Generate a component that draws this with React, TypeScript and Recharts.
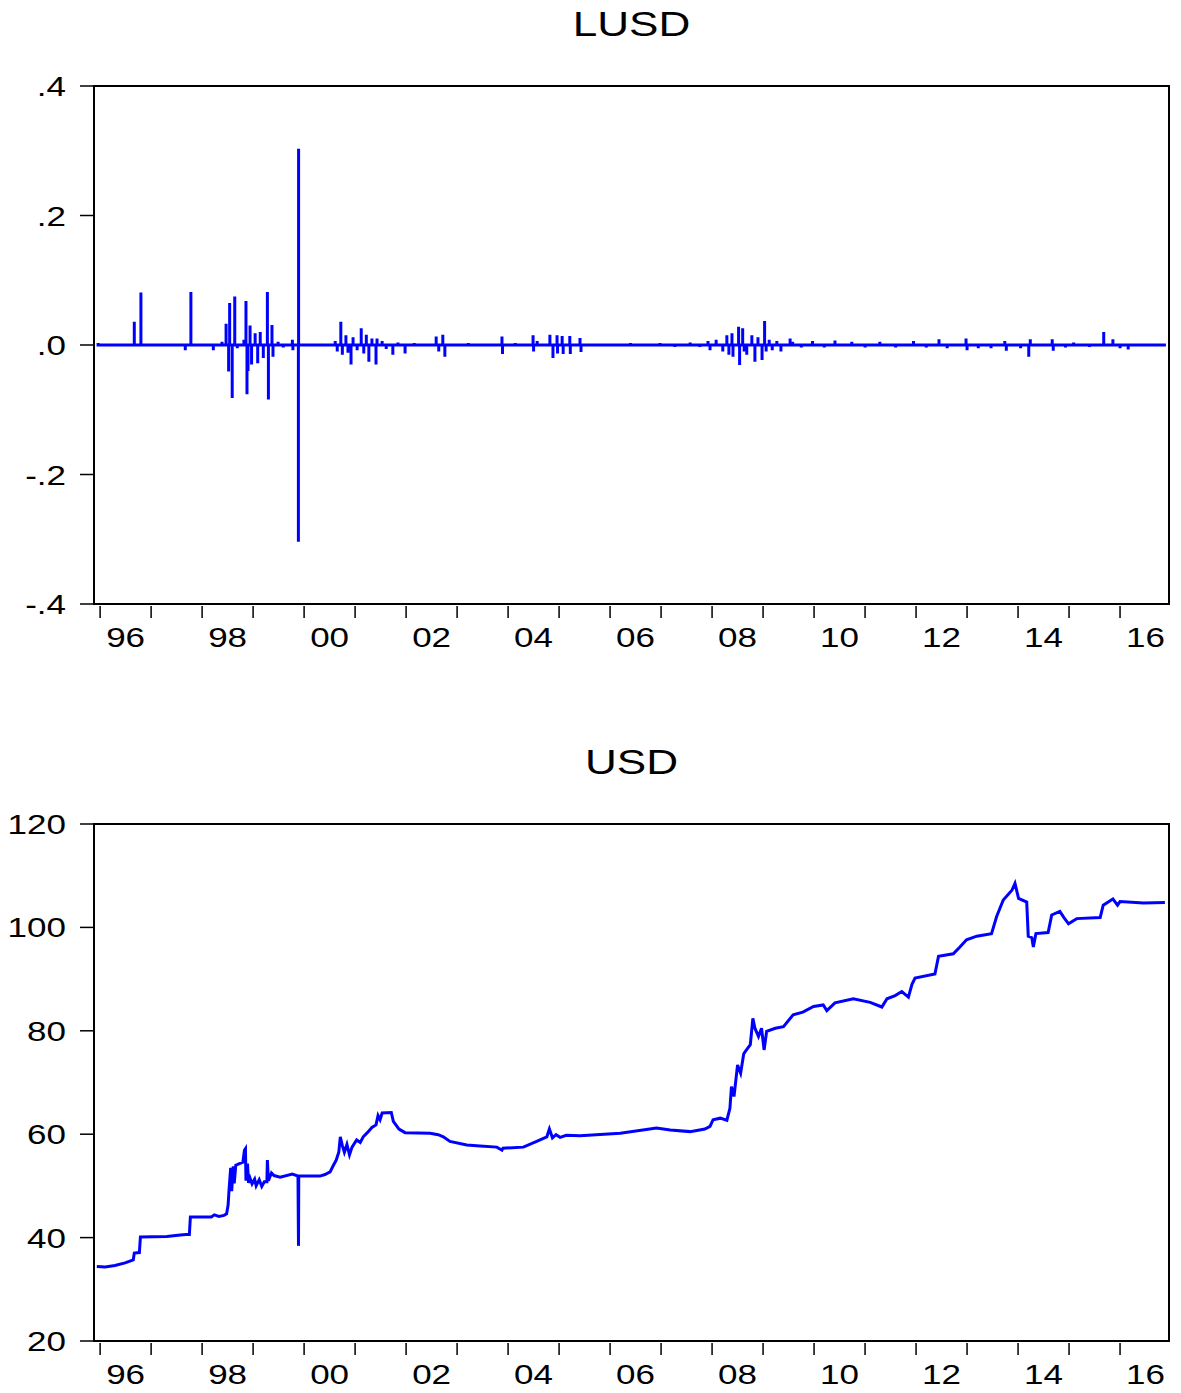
import { LineChart, Line, XAxis, YAxis, ReferenceArea } from 'recharts';

const X_MIN = 1995.88;
const X_MAX = 2016.96;

const yearTicks = [
  1996, 1997, 1998, 1999, 2000, 2001, 2002, 2003, 2004, 2005, 2006,
  2007, 2008, 2009, 2010, 2011, 2012, 2013, 2014, 2015, 2016,
];
const labelYears = [1996, 1998, 2000, 2002, 2004, 2006, 2008, 2010, 2012, 2014, 2016];
const yearLabels = ['96', '98', '00', '02', '04', '06', '08', '10', '12', '14', '16'];

const lusdTicks = [-0.4, -0.2, 0, 0.2, 0.4];
const lusdTickLabels = ['-.4', '-.2', '.0', '.2', '.4'];
const usdTicks = [20, 40, 60, 80, 100, 120];
const usdTickLabels = ['20', '40', '60', '80', '100', '120'];

const lusdSpan = [1995.935, 2016.9];
const lusdSpikeDates = [
  1995.96, 1996.35, 1996.67, 1996.8, 1997.1, 1997.45, 1997.67, 1997.78, 1998.22, 1998.39,
  1998.47, 1998.52, 1998.54, 1998.59, 1998.64, 1998.69, 1998.82, 1998.86, 1998.88, 1998.9,
  1998.94, 1998.97, 1999.04, 1999.09, 1999.14, 1999.2, 1999.28, 1999.3, 1999.37, 1999.39,
  1999.49, 1999.59, 1999.77, 1999.78, 1999.888, 1999.892, 2000.2, 2000.61, 2000.65, 2000.72,
  2000.75, 2000.82, 2000.86, 2000.92, 2000.96, 2001.04, 2001.12, 2001.17, 2001.22, 2001.27,
  2001.33, 2001.41, 2001.43, 2001.53, 2001.61, 2001.74, 2001.84, 2001.98, 2002.16, 2002.59,
  2002.64, 2002.72, 2002.76, 2003.22, 2003.55, 2003.88, 2003.89, 2004.14, 2004.49, 2004.5,
  2004.57, 2004.82, 2004.88, 2004.96, 2004.97, 2005.06, 2005.08, 2005.21, 2005.22, 2005.41,
  2005.43, 2005.8, 2006.0, 2006.4, 2006.7, 2006.98, 2007.27, 2007.57, 2007.76, 2007.92,
  2007.96, 2008.08, 2008.21, 2008.29, 2008.33, 2008.39, 2008.41, 2008.52, 2008.54, 2008.6,
  2008.63, 2008.68, 2008.78, 2008.84, 2008.9, 2008.98, 2009.03, 2009.06, 2009.12, 2009.18,
  2009.27, 2009.35, 2009.53, 2009.58, 2009.75, 2009.97, 2010.2, 2010.41, 2010.74, 2011.0,
  2011.29, 2011.6, 2011.95, 2012.2, 2012.45, 2012.61, 2012.98, 2013.0, 2013.22, 2013.47,
  2013.74, 2013.77, 2014.05, 2014.21, 2014.24, 2014.67, 2014.69, 2014.93, 2015.09, 2015.4,
  2015.68, 2015.86, 2016.0, 2016.16, 2016.47, 2016.7,
];
const lusdSpikeValues = [
  0.003, 0.002, 0.036, 0.081, -0.002, 0.002, -0.008, 0.082, -0.008, 0.005,
  0.033, -0.041, 0.065, -0.082, 0.075, -0.005, 0.008, 0.068, -0.076, -0.04,
  0.03, -0.03, 0.018, -0.028, 0.02, -0.02, 0.082, -0.084, 0.031, -0.018,
  0.005, -0.004, 0.008, -0.008, -0.304, 0.303, 0.002, 0.006, -0.01, 0.036,
  -0.015, 0.015, -0.012, -0.03, 0.012, -0.008, 0.026, -0.013, 0.016, -0.026,
  0.01, -0.03, 0.01, 0.006, -0.006, -0.015, 0.004, -0.013, 0.003, 0.013,
  -0.01, 0.016, -0.018, 0.003, -0.002, 0.013, -0.014, 0.003, 0.015, -0.01,
  0.006, 0.016, -0.02, 0.015, -0.013, 0.014, -0.014, 0.014, -0.014, 0.011,
  -0.011, 0.002, -0.002, 0.003, -0.002, 0.003, -0.003, 0.004, -0.003, 0.006,
  -0.008, 0.008, -0.01, 0.015, -0.015, 0.018, -0.018, 0.028, -0.031, 0.026,
  -0.01, -0.015, 0.015, -0.026, 0.012, -0.023, 0.037, -0.01, 0.008, -0.008,
  0.006, -0.01, 0.01, 0.005, -0.004, 0.006, -0.004, 0.007, 0.005, -0.004,
  0.005, -0.004, 0.006, -0.004, 0.009, -0.005, 0.01, -0.008, -0.005, -0.005,
  0.006, -0.009, -0.005, -0.018, 0.009, 0.009, -0.009, -0.004, 0.004, -0.003,
  0.02, 0.009, -0.005, -0.007, 0.002, -0.002,
];

// USD level
const usdDates = [
  1995.935, 1996.1, 1996.29, 1996.49, 1996.65, 1996.67, 1996.77, 1996.79, 1997.31, 1997.57,
  1997.69, 1997.75, 1997.77, 1998.18, 1998.24, 1998.33, 1998.43, 1998.48, 1998.51, 1998.53,
  1998.56, 1998.58, 1998.61, 1998.63, 1998.66, 1998.8, 1998.83, 1998.85, 1998.86, 1998.89,
  1998.91, 1998.94, 1998.98, 1999.03, 1999.06, 1999.12, 1999.17, 1999.22, 1999.27, 1999.28,
  1999.3, 1999.36, 1999.41, 1999.53, 1999.77, 1999.88, 1999.89, 1999.895, 2000.31, 2000.41,
  2000.51, 2000.57, 2000.63, 2000.68, 2000.71, 2000.75, 2000.79, 2000.84, 2000.89, 2000.94,
  2001.03, 2001.1, 2001.16, 2001.24, 2001.33, 2001.41, 2001.45, 2001.49, 2001.53, 2001.71,
  2001.75, 2001.86, 2001.98, 2002.47, 2002.63, 2002.73, 2002.86, 2003.19, 2003.45, 2003.78,
  2003.88, 2003.9, 2004.3, 2004.56, 2004.76, 2004.81, 2004.87, 2004.94, 2005.02, 2005.14,
  2005.41, 2006.2, 2006.91, 2007.18, 2007.57, 2007.86, 2007.96, 2008.02, 2008.16, 2008.29,
  2008.35, 2008.38, 2008.43, 2008.5, 2008.56, 2008.62, 2008.65, 2008.75, 2008.8, 2008.84,
  2008.91, 2008.97, 2009.02, 2009.07, 2009.24, 2009.4, 2009.59, 2009.78, 2009.99, 2010.18,
  2010.25, 2010.41, 2010.77, 2011.1, 2011.33, 2011.43, 2011.59, 2011.72, 2011.85, 2011.92,
  2011.98, 2012.37, 2012.44, 2012.73, 2012.86, 2012.99, 2013.19, 2013.48, 2013.58, 2013.71,
  2013.88, 2013.94, 2014.01, 2014.17, 2014.2, 2014.27, 2014.3, 2014.35, 2014.59, 2014.66,
  2014.82, 2014.9, 2014.99, 2015.15, 2015.61, 2015.67, 2015.86, 2015.95, 2016.0, 2016.46,
  2016.88,
];
const usdValues = [
  34.4, 34.3, 34.6, 35.1, 35.7, 37.0, 37.1, 40.1, 40.2, 40.5,
  40.6, 40.6, 44.0, 44.0, 44.4, 44.1, 44.3, 44.6, 46.3, 49.5,
  53.5, 49.0, 53.8, 50.5, 54.0, 54.6, 56.9, 57.2, 51.0, 54.3,
  50.6, 51.5, 50.4, 51.3, 50.0, 51.2, 49.9, 50.8, 50.8, 55.0,
  51.0, 52.5, 52.0, 51.7, 52.3, 51.9, 38.4, 51.9, 51.9, 52.2,
  52.7, 53.9, 55.0, 56.5, 59.5, 57.8, 56.5, 58.0, 56.0, 57.5,
  58.9, 58.4, 59.5, 60.3, 61.3, 61.8, 63.6, 62.8, 64.1, 64.2,
  62.5, 61.0, 60.3, 60.2, 59.9, 59.5, 58.6, 57.9, 57.7, 57.5,
  56.9, 57.3, 57.5, 58.6, 59.5, 61.0, 59.3, 59.9, 59.4, 59.8,
  59.7, 60.2, 61.2, 60.8, 60.5, 61.0, 61.5, 62.8, 63.1, 62.7,
  65.0, 69.2, 67.3, 73.4, 71.8, 75.5, 76.0, 77.3, 82.4, 80.5,
  78.9, 80.5, 76.3, 79.9, 80.5, 80.8, 83.1, 83.6, 84.7, 85.0,
  83.9, 85.4, 86.2, 85.5, 84.6, 86.2, 86.8, 87.6, 86.5, 89.0,
  90.2, 91.0, 94.4, 94.9, 96.2, 97.6, 98.3, 98.8, 102.1, 105.3,
  107.2, 108.5, 105.6, 104.9, 98.3, 98.0, 96.2, 98.8, 99.0, 102.4,
  103.1, 101.9, 100.7, 101.7, 101.9, 104.3, 105.5, 104.3, 105.0, 104.7,
  104.8,
];

const lusdData: { t: number; v: number }[] = [{ t: lusdSpan[0], v: 0 }];
lusdSpikeDates.forEach((t, i) => {
  lusdData.push({ t, v: 0 }, { t, v: lusdSpikeValues[i] }, { t, v: 0 });
});
lusdData.push({ t: lusdSpan[1], v: 0 });

const usdData = usdDates.map((t, i) => ({ t, v: usdValues[i] }));

// one axis carries both the year-start tick marks and the mid-year labels
const xTicks = [...yearTicks, ...labelYears.map((y) => y + 0.5)].sort((a, b) => a - b);

const FONT = '"Liberation Sans", Arial, Helvetica, sans-serif';
const BLUE = '#0000FF';
const STRETCH = 1.25;

const YearTick = (props: any) => {
  const { x, y, payload } = props;
  const v = payload.value;
  if (Number.isInteger(v)) {
    return <line x1={x} x2={x} y1={y + 2} y2={y + 14} stroke="#000" strokeWidth={1.5} />;
  }
  const i = labelYears.indexOf(Math.round(v - 0.5));
  if (i < 0) return <g />;
  return (
    <text
      transform={`translate(${x},${y + 43}) scale(${STRETCH},1)`}
      textAnchor="middle"
      fontSize={28}
      fontFamily={FONT}
      fill="#000"
    >
      {yearLabels[i]}
    </text>
  );
};

const makeYLabel = (ticks: number[], labels: string[]) => (props: any) => {
  const { x, y, payload } = props;
  const i = ticks.findIndex((t) => Math.abs(t - payload.value) < 1e-9);
  return (
    <text
      transform={`translate(${x},${y + 10}) scale(${STRETCH},1)`}
      textAnchor="end"
      fontSize={28}
      fontFamily={FONT}
      fill="#000"
    >
      {i >= 0 ? labels[i] : ''}
    </text>
  );
};

const LusdYLabel = makeYLabel(lusdTicks, lusdTickLabels);
const UsdYLabel = makeYLabel(usdTicks, usdTickLabels);

function Title({ text, y }: { text: string; y: number }) {
  return (
    <svg
      width={1181}
      height={y + 12}
      style={{ position: 'absolute', left: 0, top: 0, pointerEvents: 'none' }}
    >
      <text
        transform={`translate(631.5,${y}) scale(1.26,1)`}
        textAnchor="middle"
        fontSize={35}
        fontFamily={FONT}
        fill="#000"
      >
        {text}
      </text>
    </svg>
  );
}

function Panel({
  title,
  titleY,
  data,
  height,
  top,
  labelHeight,
  yDomain,
  yTicks,
  yTick,
}: {
  title: string;
  titleY: number;
  data: { t: number; v: number }[];
  height: number;
  top: number;
  labelHeight: number;
  yDomain: [number, number];
  yTicks: number[];
  yTick: any;
}) {
  return (
    <div style={{ position: 'relative', width: 1181, height }}>
      <LineChart width={1181} height={height} data={data} margin={{ top, right: 12, left: 0, bottom: 0 }}>
        <XAxis
          dataKey="t"
          type="number"
          domain={[X_MIN, X_MAX]}
          allowDataOverflow
          ticks={xTicks}
          interval={0}
          tick={<YearTick />}
          tickSize={0}
          tickMargin={0}
          axisLine={false}
          tickLine={false}
          height={labelHeight}
        />
        <YAxis
          type="number"
          domain={yDomain}
          allowDataOverflow
          ticks={yTicks}
          interval={0}
          width={94}
          tickSize={14}
          tickMargin={14}
          tick={yTick}
          axisLine={false}
          tickLine={{ stroke: '#000', strokeWidth: 1.5 }}
        />
        <ReferenceArea
          x1={X_MIN}
          x2={X_MAX}
          y1={yDomain[0]}
          y2={yDomain[1]}
          fill="none"
          fillOpacity={0}
          stroke="#000"
          strokeWidth={2}
          strokeOpacity={1}
          ifOverflow="visible"
        />
        <Line
          type="linear"
          dataKey="v"
          stroke={BLUE}
          strokeWidth={3}
          dot={false}
          activeDot={false}
          isAnimationActive={false}
        />
      </LineChart>
      <Title text={title} y={titleY} />
    </div>
  );
}

export default function App() {
  return (
    <div style={{ position: 'absolute', left: 0, top: 0, width: 1181, height: 1393, background: '#fff' }}>
      <Panel
        title="LUSD"
        titleY={36}
        data={lusdData}
        height={680}
        top={86}
        labelHeight={76}
        yDomain={[-0.4, 0.4]}
        yTicks={lusdTicks}
        yTick={<LusdYLabel />}
      />
      <Panel
        title="USD"
        titleY={94}
        data={usdData}
        height={713}
        top={144}
        labelHeight={52}
        yDomain={[20, 120]}
        yTicks={usdTicks}
        yTick={<UsdYLabel />}
      />
    </div>
  );
}
